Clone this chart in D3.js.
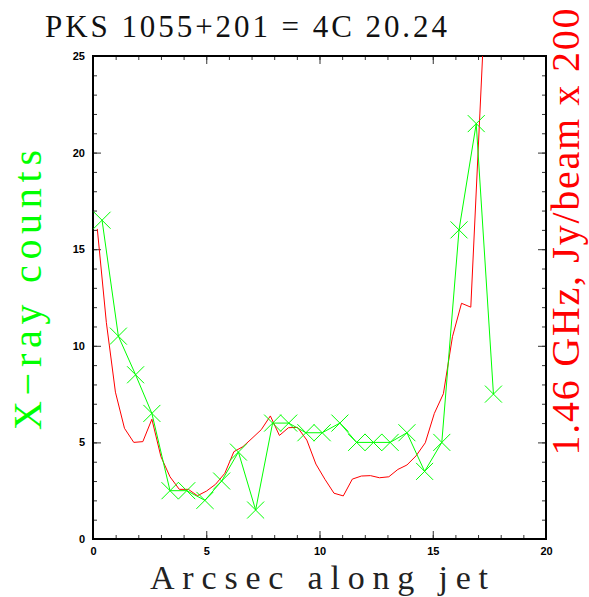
<!DOCTYPE html>
<html>
<head>
<meta charset="utf-8">
<script src="https://cdn.jsdelivr.net/npm/d3@7"></script>
<style>
  body { margin: 0; background: #fff; }
  svg { display: block; }
</style>
</head>
<body>
<svg id="drawing_region"></svg>
<script>
// X-ray counts, one per bin along the jet (arcsec)
const xrayPos = [0.40, 1.12, 1.88, 2.60, 3.40, 4.14, 4.94, 5.68, 6.42, 7.18, 7.93, 8.64,
                 9.40, 10.12, 10.90, 11.64, 12.38, 13.12, 13.86, 14.64, 15.40, 16.16, 16.92, 17.68];
const xrayCounts = [16.5, 10.5, 8.5, 6.5, 2.5, 2.5, 2.0, 3.0, 4.5, 1.5, 6.0, 6.0,
                    5.5, 5.5, 6.0, 5.0, 5.0, 5.0, 5.5, 3.5, 5.0, 16.0, 21.5, 7.5];

// 1.46 GHz radio profile, Jy/beam x 200
const radioPos = [0.19, 0.59, 0.99, 1.39, 1.80, 2.20, 2.60, 3.00, 3.40, 3.81, 4.21, 4.61,
                  5.01, 5.41, 5.82, 6.22, 6.62, 7.02, 7.43, 7.83, 8.23, 8.63, 9.03, 9.44,
                  9.84, 10.24, 10.64, 11.05, 11.45, 11.85, 12.25, 12.65, 13.06, 13.46, 13.86, 14.26,
                  14.67, 15.07, 15.47, 15.87, 16.27, 16.68, 17.08, 17.48];
const radioFlux = [16.05, 11.2, 7.6, 5.73, 5.0, 5.04, 6.2, 4.26, 3.22, 2.57, 2.57, 2.24,
                   2.48, 2.83, 3.4, 4.52, 4.78, 5.21, 5.66, 6.37, 5.36, 5.76, 5.78, 5.12,
                   3.88, 3.09, 2.37, 2.23, 3.1, 3.26, 3.28, 3.17, 3.22, 3.6, 3.83, 4.3,
                   4.98, 6.5, 7.52, 10.47, 12.2, 12.0, 22.0, 32.0];

const xTicks = [0, 5, 10, 15, 20];
const yTicks = [0, 5, 10, 15, 20, 25];

const config = {
    width: 589,
    height: 597,
    margin: { top: 56, right: 43, bottom: 58, left: 93 }
};

const svg = d3.select('#drawing_region')
    .attr('width', config.width)
    .attr('height', config.height);

const inner_width = config.width - config.margin.left - config.margin.right;
const inner_height = config.height - config.margin.top - config.margin.bottom;

const chart = svg.append('g')
    .attr('transform', `translate(${config.margin.left}, ${config.margin.top})`);

const xscale = d3.scaleLinear().domain([0, 20]).range([0, inner_width]);
const yscale = d3.scaleLinear().domain([0, 25]).range([inner_height, 0]);

svg.append('defs').append('clipPath').attr('id', 'plot_clip')
    .append('rect').attr('width', inner_width).attr('height', inner_height);

// minor + major ticks on all four sides, pointing inward
const minorX = d3.range(0, 21);
const minorY = d3.range(0, 26);

function tickGroup(axis, transform) {
    const g = chart.append('g').attr('transform', transform).call(axis);
    g.select('.domain').remove();
    g.selectAll('.tick line').attr('stroke', '#333').attr('stroke-width', 1);
    return g;
}

tickGroup(d3.axisBottom(xscale).tickValues(minorX).tickSize(-4).tickFormat(''), `translate(0, ${inner_height})`);
tickGroup(d3.axisTop(xscale).tickValues(minorX).tickSize(-4).tickFormat(''), 'translate(0, 0)');
tickGroup(d3.axisLeft(yscale).tickValues(minorY).tickSize(-4).tickFormat(''), 'translate(0, 0)');
tickGroup(d3.axisRight(yscale).tickValues(minorY).tickSize(-4).tickFormat(''), `translate(${inner_width}, 0)`);

const xaxis_group = tickGroup(d3.axisBottom(xscale).tickValues(xTicks).tickSize(-8).tickPadding(8), `translate(0, ${inner_height})`);
tickGroup(d3.axisTop(xscale).tickValues(xTicks).tickSize(-8).tickFormat(''), 'translate(0, 0)');
const yaxis_group = tickGroup(d3.axisLeft(yscale).tickValues(yTicks).tickSize(-8).tickPadding(8), 'translate(0, 0)');
tickGroup(d3.axisRight(yscale).tickValues(yTicks).tickSize(-8).tickFormat(''), `translate(${inner_width}, 0)`);

[xaxis_group, yaxis_group].forEach(g => {
    g.selectAll('.tick text')
        .attr('fill', '#000')
        .style('font-family', '"Liberation Sans", Arial, sans-serif')
        .style('font-size', '11px')
        .style('font-weight', 'bold');
});

// frame
chart.append('rect')
    .attr('width', inner_width)
    .attr('height', inner_height)
    .attr('fill', 'none')
    .attr('stroke', '#000')
    .attr('stroke-width', 2);

// radio profile (red)
const radio = radioPos.map((p, i) => [p, radioFlux[i]]);
chart.append('path')
    .datum(radio)
    .attr('clip-path', 'url(#plot_clip)')
    .attr('fill', 'none')
    .attr('stroke', '#ff0000')
    .attr('stroke-width', 1)
    .attr('d', d3.line().x(d => xscale(d[0])).y(d => yscale(d[1])));

// X-ray counts (green) with X markers
const xray = xrayPos.map((p, i) => [p, xrayCounts[i]]);
chart.append('path')
    .datum(xray)
    .attr('fill', 'none')
    .attr('stroke', '#00ff00')
    .attr('stroke-width', 1)
    .attr('d', d3.line().x(d => xscale(d[0])).y(d => yscale(d[1])));

const m = 8.5;
chart.selectAll('.marker')
    .data(xray)
    .enter()
    .append('path')
    .attr('class', 'marker')
    .attr('fill', 'none')
    .attr('stroke', '#00ff00')
    .attr('stroke-width', 1)
    .attr('d', d => {
        const cx = xscale(d[0]), cy = yscale(d[1]);
        return `M${cx - m},${cy - m}L${cx + m},${cy + m}M${cx - m},${cy + m}L${cx + m},${cy - m}`;
    });

// titles
const serif = '"Liberation Serif", "Times New Roman", serif';

svg.append('text')
    .attr('x', 45).attr('y', 37)
    .attr('textLength', 402).attr('lengthAdjust', 'spacing')
    .style('font-family', serif).style('font-size', '31px')
    .attr('fill', '#111')
    .text('PKS 1055+201 = 4C 20.24');

svg.append('text')
    .attr('x', 150).attr('y', 589)
    .attr('textLength', 338).attr('lengthAdjust', 'spacing')
    .style('font-family', serif).style('font-size', '34px')
    .attr('fill', '#222')
    .text('Arcsec along jet');

svg.append('text')
    .attr('transform', 'translate(41, 290) rotate(-90)')
    .attr('text-anchor', 'middle')
    .attr('textLength', 280).attr('lengthAdjust', 'spacing')
    .style('font-family', serif).style('font-size', '40px')
    .attr('fill', '#00ff00')
    .text('X\u2212ray counts');

svg.append('text')
    .attr('transform', 'translate(579, 232) rotate(-90)')
    .attr('text-anchor', 'middle')
    .attr('textLength', 447).attr('lengthAdjust', 'spacing')
    .style('font-family', serif).style('font-size', '40px')
    .attr('fill', '#ff0000')
    .text('1.46 GHz, Jy/beam x 200');
</script>
</body>
</html>
